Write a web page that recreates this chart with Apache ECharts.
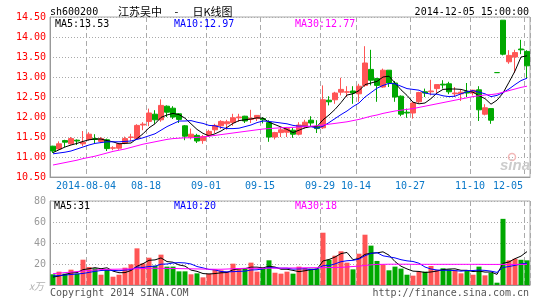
<!DOCTYPE html>
<html><head><meta charset="utf-8">
<script src="https://cdn.jsdelivr.net/npm/echarts@6/dist/echarts.min.js"></script>
<style>html,body{margin:0;padding:0;background:#fff}#c{width:545px;height:300px}</style>
</head><body><div id="c"></div><script>
const dates = ['2014-07-25','2014-07-28','2014-07-29','2014-07-30','2014-07-31','2014-08-01',
'2014-08-04','2014-08-05','2014-08-06','2014-08-07','2014-08-08',
'2014-08-11','2014-08-12','2014-08-13','2014-08-14','2014-08-15',
'2014-08-18','2014-08-19','2014-08-20','2014-08-21','2014-08-22',
'2014-08-25','2014-08-26','2014-08-27','2014-08-28','2014-08-29',
'2014-09-01','2014-09-02','2014-09-03','2014-09-04','2014-09-05',
'2014-09-09','2014-09-10','2014-09-11','2014-09-12',
'2014-09-15','2014-09-16','2014-09-17','2014-09-18','2014-09-19',
'2014-09-22','2014-09-23','2014-09-24','2014-09-25','2014-09-26',
'2014-09-29','2014-09-30',
'2014-10-08','2014-10-09','2014-10-10',
'2014-10-13','2014-10-14','2014-10-15','2014-10-16','2014-10-17',
'2014-10-20','2014-10-21','2014-10-22','2014-10-23','2014-10-24',
'2014-10-27','2014-10-28','2014-10-29','2014-10-30','2014-10-31',
'2014-11-03','2014-11-04','2014-11-05','2014-11-06','2014-11-07',
'2014-11-10','2014-11-11','2014-11-12','2014-11-13',
'2014-11-28',
'2014-12-01','2014-12-02','2014-12-03','2014-12-04','2014-12-05'];

const opens = [11.27,11.20,11.41,11.33,11.42,11.33,11.44,11.46,11.39,11.43,
11.22,11.22,11.35,11.49,11.46,11.80,11.89,12.07,11.93,12.27,
12.22,12.08,11.78,11.50,11.54,11.41,11.54,11.68,11.78,11.83,
11.86,11.98,12.02,11.94,11.96,11.96,11.86,11.50,11.61,11.62,
11.67,11.57,11.75,11.92,11.77,11.73,12.42,12.43,12.62,12.62,
12.65,12.58,12.79,13.19,12.96,12.75,13.17,12.85,12.52,12.12,
12.10,12.38,12.63,12.63,12.71,12.82,12.83,12.58,12.58,12.63,
12.60,12.68,12.07,12.21,13.11,14.42,13.38,13.50,13.70,13.64];

const closes = [11.15,11.33,11.37,11.46,11.40,11.37,11.57,11.44,11.46,11.21,
11.23,11.33,11.46,11.50,11.79,11.82,12.10,11.93,12.29,12.12,
12.00,11.94,11.52,11.57,11.40,11.51,11.64,11.79,11.89,11.88,
11.98,12.00,11.90,11.97,12.04,11.93,11.50,11.61,11.68,11.71,
11.57,11.80,11.87,11.85,11.71,12.43,12.38,12.60,12.69,12.63,
12.60,12.77,13.35,12.92,12.79,13.17,12.85,12.50,12.07,12.10,
12.35,12.61,12.60,12.65,12.81,12.80,12.63,12.60,12.62,12.60,
12.67,12.18,12.23,11.92,13.11,13.57,13.54,13.61,13.68,13.28];

const highs = [11.28,11.39,11.43,11.50,11.44,11.65,11.62,11.57,11.50,11.46,
11.27,11.35,11.51,11.58,11.82,11.87,12.21,12.17,12.44,12.29,
12.27,12.10,11.80,11.71,11.58,11.55,11.68,11.83,11.92,11.93,
12.08,12.08,12.03,12.18,12.05,12.00,11.92,11.63,11.75,11.75,
11.73,11.87,11.93,12.02,11.92,12.79,12.52,12.63,12.98,12.77,
12.77,12.83,13.77,13.68,12.98,13.21,13.17,12.90,12.54,12.21,
12.38,12.63,12.71,12.93,12.81,12.92,12.88,12.75,12.68,12.85,
12.68,12.77,12.32,12.21,13.11,14.42,13.67,13.68,13.93,13.67];

const lows = [11.10,11.18,11.25,11.31,11.30,11.27,11.41,11.33,11.35,11.15,
11.17,11.18,11.32,11.40,11.43,11.67,11.77,11.83,11.88,12.00,
11.95,11.85,11.42,11.44,11.35,11.33,11.50,11.60,11.70,11.68,
11.78,11.88,11.85,11.85,11.90,11.84,11.38,11.44,11.50,11.50,
11.48,11.54,11.71,11.77,11.60,11.70,12.29,12.33,12.54,12.50,
12.33,12.38,12.75,12.79,12.38,12.73,12.75,12.38,12.02,11.98,
11.96,12.35,12.50,12.54,12.58,12.71,12.57,12.50,12.40,12.50,
12.54,11.90,12.04,11.83,13.11,13.54,13.33,13.10,13.57,12.96];

const ma5 = [11.11,11.18,11.25,11.30,11.34,11.39,11.43,11.45,11.45,11.41,
11.38,11.33,11.34,11.35,11.46,11.58,11.73,11.83,11.99,12.05,
12.09,12.06,11.97,11.83,11.69,11.59,11.53,11.58,11.65,11.74,
11.84,11.91,11.93,11.95,11.98,11.97,11.87,11.81,11.75,11.69,
11.61,11.67,11.73,11.76,11.76,11.93,12.05,12.19,12.36,12.55,
12.58,12.66,12.81,12.85,12.89,13.00,13.02,12.85,12.68,12.54,
12.37,12.33,12.35,12.46,12.60,12.69,12.70,12.70,12.69,12.65,
12.62,12.53,12.46,12.32,12.42,12.60,12.87,13.15,13.50,13.53];

const ma10 = [11.08,11.10,11.12,11.15,11.20,11.25,11.30,11.34,11.36,11.38,
11.38,11.38,11.39,11.40,11.44,11.48,11.53,11.58,11.67,11.76,
11.83,11.90,11.90,11.91,11.87,11.84,11.79,11.78,11.74,11.71,
11.71,11.72,11.76,11.80,11.86,11.90,11.89,11.87,11.85,11.83,
11.79,11.77,11.77,11.76,11.72,11.77,11.86,11.96,12.06,12.15,
12.26,12.35,12.50,12.61,12.72,12.79,12.84,12.83,12.77,12.71,
12.69,12.67,12.60,12.57,12.57,12.53,12.51,12.52,12.58,12.63,
12.66,12.62,12.58,12.51,12.54,12.61,12.70,12.81,12.91,12.97];

const ma30 = [10.80,10.83,10.86,10.89,10.92,10.96,10.99,11.02,11.06,11.10,
11.14,11.17,11.20,11.24,11.28,11.32,11.35,11.38,11.41,11.44,
11.46,11.47,11.48,11.48,11.49,11.50,11.52,11.54,11.56,11.58,
11.60,11.62,11.64,11.66,11.68,11.70,11.71,11.72,11.73,11.74,
11.74,11.75,11.76,11.77,11.78,11.80,11.82,11.84,11.86,11.88,
11.91,11.94,11.98,12.02,12.05,12.09,12.12,12.15,12.17,12.19,
12.21,12.24,12.27,12.30,12.33,12.36,12.39,12.42,12.45,12.48,
12.51,12.53,12.55,12.56,12.58,12.62,12.66,12.70,12.74,12.77];

const volumes = [10.2,12.7,10.8,14.6,10.8,24.1,17.1,15.9,9.8,15.2,
7.9,9.8,16.5,19.7,34.9,20.6,26.0,18.4,28.9,17.5,
17.5,13.0,13.0,10.2,11.1,7.3,10.8,14.9,14.0,12.7,
20.3,15.2,15.6,21.3,12.7,16.5,23.5,11.7,10.8,12.7,
10.8,17.5,16.2,15.6,15.6,49.8,24.1,27.9,32.1,21.3,
14.9,29.8,47.9,37.5,22.9,19.7,14.0,17.5,15.6,9.8,
8.9,12.7,12.7,18.1,14.3,15.9,14.9,14.0,11.1,14.0,
9.8,17.5,9.2,11.7,2.2,63.0,23.5,25.0,24.0,23.5];

const vma5 = [7.6,8.5,10.0,11.5,11.8,14.6,15.5,16.5,15.5,16.4,
13.2,11.7,11.8,13.8,17.8,20.3,23.5,23.9,25.8,22.3,
21.7,19.1,18.0,14.2,13.0,10.9,10.5,10.9,11.6,11.9,
14.5,15.4,15.6,17.0,17.0,16.3,17.9,17.1,15.0,15.0,
13.9,12.7,13.6,14.6,15.1,22.9,24.3,26.6,29.9,31.0,
24.1,25.2,29.2,30.3,30.6,31.6,28.4,22.3,17.9,15.3,
13.2,12.9,11.9,12.4,13.3,14.7,15.2,15.4,14.0,14.0,
12.8,13.3,12.3,12.4,10.1,20.7,21.9,25.1,27.5,31.8];

const vma10 = [8.6,9.0,9.5,10.0,10.5,11.0,12.0,13.0,13.8,14.1,
13.9,13.6,14.2,14.7,17.1,16.7,17.6,17.9,19.8,20.0,
21.0,21.3,21.0,20.0,17.6,16.3,14.8,14.4,12.9,12.5,
12.7,13.0,13.2,14.3,14.5,15.4,16.7,16.4,16.0,16.0,
15.1,15.3,15.4,14.8,15.1,18.4,18.5,20.1,22.2,23.1,
23.5,24.7,27.9,30.1,30.8,27.8,26.8,25.8,24.1,23.0,
22.4,20.7,17.1,15.2,14.3,14.0,14.0,13.7,13.2,13.7,
13.8,14.2,13.9,13.2,12.0,16.7,17.6,18.7,20.0,20.9];

const vma30 = [10.8,11.3,11.8,12.3,12.8,13.3,13.8,14.3,14.7,14.9,
15.0,15.1,15.2,15.3,15.5,15.7,15.9,15.9,15.9,15.8,
15.7,15.6,15.5,15.4,15.3,15.2,15.1,15.0,15.0,15.2,
15.5,15.7,15.9,15.9,15.9,15.9,16.0,16.0,16.1,16.2,
16.2,16.3,16.4,16.5,16.5,16.5,16.6,16.7,16.8,17.2,
17.6,18.0,18.6,19.2,19.6,19.7,19.8,19.8,19.8,19.8,
19.7,19.7,19.7,19.7,19.7,19.7,19.7,19.7,19.7,19.7,
19.7,19.7,19.6,19.6,19.6,19.6,19.6,19.6,19.6,19.6];

const tickDates = ['2014-08-04','2014-08-18','2014-09-01','2014-09-15','2014-09-29','2014-10-14','2014-10-27','2014-11-10','2014-12-05'];
const tickLabels = ['2014-08-04','08-18','09-01','09-15','09-29','10-14','10-27','11-10','12-05'];

const RED = '#ff5555', GREEN = '#00a800';
const MONO = '"DejaVu Sans Mono", monospace';
const tickIdx = tickDates.map(d => dates.indexOf(d));
const isTick = (i) => tickIdx.indexOf(i) >= 0;

const candleData = opens.map((o, i) => {
  const v = [o, closes[i], lows[i], highs[i]];
  if (o === closes[i]) return {value: v, itemStyle: {color: GREEN, color0: GREEN, borderColor: GREEN, borderColor0: GREEN}};
  return v;
});
const volData = volumes.map((v, i) => ({value: v, itemStyle: {color: closes[i] > opens[i] ? RED : GREEN}}));

const chart = echarts.init(document.getElementById('c'), null, {renderer: 'canvas'});
const splitV = {show: true, interval: (i) => isTick(i), lineStyle: {color: '#aaaaaa', width: 1, type: [5, 3]}};
const splitH = {show: true, lineStyle: {color: '#aaaaaa', width: 1, type: [1, 2]}};
function line(data, color, xi, yi) {
  return {type: 'line', data: data, xAxisIndex: xi, yAxisIndex: yi, symbol: 'none', silent: true, z: 5,
    lineStyle: {width: 1, color: color}, itemStyle: {color: color}};
}
function txt(text, x, y, color, align, font) {
  return {type: 'text', silent: true, z: 100, style: {text: text, x: x, y: y, fill: color, textAlign: align || 'left', textVerticalAlign: 'middle', font: font || ('10px ' + MONO)}};
}
const option = {
  animation: false,
  backgroundColor: '#ffffff',
  grid: [
    {left: 50, top: 17, width: 480, height: 160, show: true, borderColor: '#aaaaaa', borderWidth: 1},
    {left: 50, top: 201, width: 480, height: 84, show: true, borderColor: '#aaaaaa', borderWidth: 1}
  ],
  xAxis: [
    {type: 'category', gridIndex: 0, data: dates, boundaryGap: true,
      axisLine: {lineStyle: {color: '#999999'}}, axisTick: {show: false},
      axisLabel: {interval: (i) => isTick(i), margin: 4, fontFamily: MONO, fontSize: 10, color: '#0a78c8',
        formatter: (val, i) => { const k = tickIdx.indexOf(i); const s = k >= 0 ? tickLabels[k] : ''; return '{' + (i === dates.length - 1 ? 'e' : 'n') + '|' + s + '}'; },
        rich: {n: {padding: [0, 6, 0, 0], fontFamily: MONO, fontSize: 10, color: '#0a78c8'},
               e: {padding: [0, 38, 0, 0], fontFamily: MONO, fontSize: 10, color: '#0a78c8'}}},
      splitLine: splitV},
    {type: 'category', gridIndex: 1, data: dates, boundaryGap: true,
      axisLine: {lineStyle: {color: '#999999'}}, axisTick: {show: false}, axisLabel: {show: false},
      splitLine: splitV}
  ],
  yAxis: [
    {type: 'value', gridIndex: 0, min: 10.5, max: 14.5, interval: 0.5,
      axisLine: {show: true, lineStyle: {color: '#999999'}}, axisTick: {show: false},
      axisLabel: {color: '#ff0000', fontFamily: MONO, fontSize: 10, margin: 4, formatter: (v) => v.toFixed(2)},
      splitLine: splitH},
    {type: 'value', gridIndex: 1, min: 0, max: 80, interval: 20,
      axisLine: {show: true, lineStyle: {color: '#999999'}}, axisTick: {show: false},
      axisLabel: {color: '#999999', fontFamily: MONO, fontSize: 10, margin: 4, formatter: (v) => v === 0 ? '' : String(v)},
      splitLine: splitH}
  ],
  series: [
    {type: 'candlestick', xAxisIndex: 0, yAxisIndex: 0, data: candleData, barWidth: 5, z: 3,
      itemStyle: {color: RED, color0: GREEN, borderColor: RED, borderColor0: GREEN, borderWidth: 1}},
    line(ma5, '#000000', 0, 0), line(ma10, '#0000ff', 0, 0), line(ma30, '#ff00ff', 0, 0),
    {type: 'bar', xAxisIndex: 1, yAxisIndex: 1, data: volData, barWidth: 5, z: 3},
    line(vma5, '#000000', 1, 1), line(vma10, '#0000ff', 1, 1), line(vma30, '#ff00ff', 1, 1)
  ],
  graphic: [
    txt('sh600200', 50, 12, '#000000'),
    txt('江苏吴中', 118, 12, '#000000', 'left', '11px "Noto Sans CJK SC"'),
    txt('-', 176.5, 12, '#000000', 'center', '11px "Noto Sans CJK SC"'),
    txt('日K线图', 192.5, 12, '#000000', 'left', '11px "Noto Sans CJK SC"'),
    txt('2014-12-05 15:00:00', 529, 12, '#000000', 'right'),
    txt('MA5:13.53', 55, 24, '#000000'),
    txt('MA10:12.97', 174, 24, '#0000ff'),
    txt('MA30:12.77', 295, 24, '#ff00ff'),
    txt('MA5:31', 54, 206, '#000000'),
    txt('MA10:20', 174, 206, '#0000ff'),
    txt('MA30:18', 295, 206, '#ff00ff'),
    txt('x万', 29, 286, '#b0b0b0', 'left', 'italic 10px "Noto Sans CJK SC"'),
    txt('Copyright 2014 SINA.COM', 50, 293, '#555555'),
    txt('http://finance.sina.com.cn', 529, 293, '#555555', 'right'),
    txt('sina', 500, 166, '#cccccc', 'left', 'italic bold 15px "Liberation Sans"'),
    {type: 'circle', silent: true, z: 99, shape: {cx: 512, cy: 157, r: 3.5}, style: {fill: 'none', stroke: '#f2b8b8', lineWidth: 1.5}}
  ]
};
chart.setOption(option);
</script></body></html>
